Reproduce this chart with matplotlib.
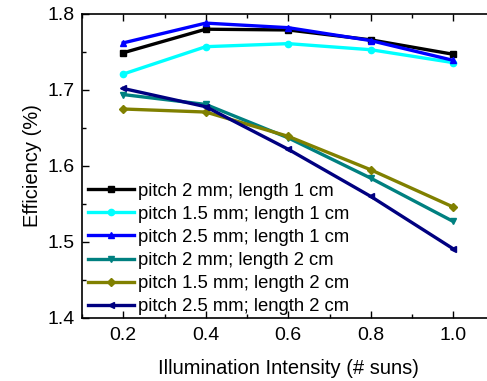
import matplotlib
matplotlib.use("Agg")
import matplotlib.pyplot as plt
from matplotlib.ticker import MultipleLocator

plt.rcParams["font.family"] = ["Liberation Sans", "DejaVu Sans"]

# Dados
suns = [0.2, 0.4, 0.6, 0.8, 1.0]
labels = [
    "pitch 2 mm; length 1 cm",
    "pitch 1.5 mm; length 1 cm",
    "pitch 2.5 mm; length 1 cm",
    "pitch 2 mm; length 2 cm",
    "pitch 1.5 mm; length 2 cm",
    "pitch 2.5 mm; length 2 cm",
]
p2_l1 = [1.749, 1.780, 1.779, 1.766, 1.747]
p15_l1 = [1.721, 1.757, 1.761, 1.753, 1.736]
p25_l1 = [1.762, 1.788, 1.782, 1.765, 1.739]
p2_l2 = [1.694, 1.681, 1.637, 1.584, 1.527]
p15_l2 = [1.675, 1.671, 1.639, 1.595, 1.546]
p25_l2 = [1.702, 1.678, 1.622, 1.560, 1.491]

series = [p2_l1, p15_l1, p25_l1, p2_l2, p15_l2, p25_l2]
colors = ["#000000", "#00FFFF", "#0000FF", "#008080", "#808000", "#000080"]
markers = ["s", "o", "^", "v", "D", "<"]

fig = plt.figure(figsize=(4.87, 3.81), dpi=100)
ax = fig.add_axes([82 / 487, 1 - 318 / 381, 412.5 / 487, 304 / 381])

for y, c, m, lab in zip(series, colors, markers, labels):
    ax.plot(suns, y, color=c, marker=m, markersize=4.5, linewidth=2.4, label=lab)

ax.set_xlim(0.1, 1.1)
ax.set_ylim(1.4, 1.8)
ax.xaxis.set_minor_locator(MultipleLocator(0.1))
ax.yaxis.set_major_locator(MultipleLocator(0.1))
ax.yaxis.set_minor_locator(MultipleLocator(0.05))
ax.set_xticks([0.2, 0.4, 0.6, 0.8, 1.0])
ax.set_xticklabels(["0.2", "0.4", "0.6", "0.8", "1.0"])
ax.tick_params(which="both", direction="in", top=True, right=False, labelsize=14, pad=5)
ax.tick_params(axis="x", pad=6.5)
ax.tick_params(which="major", length=5, width=1)
ax.tick_params(which="minor", length=3, width=1)
ax.spines["right"].set_visible(False)
for s in ["left", "bottom", "top"]:
    ax.spines[s].set_linewidth(1.2)

ax.set_xlabel("Illumination Intensity (# suns)", fontsize=14.5, labelpad=11)
ax.set_ylabel("Efficiency (%)", fontsize=14.5, labelpad=4)

ax.legend(loc="lower left", frameon=False, fontsize=13.3, handlelength=2.45,
          handletextpad=0.22, labelspacing=0.33, borderaxespad=0.05,
          borderpad=0.1, bbox_to_anchor=(0.009, 0.0))

fig.savefig("out.png", dpi=100)
